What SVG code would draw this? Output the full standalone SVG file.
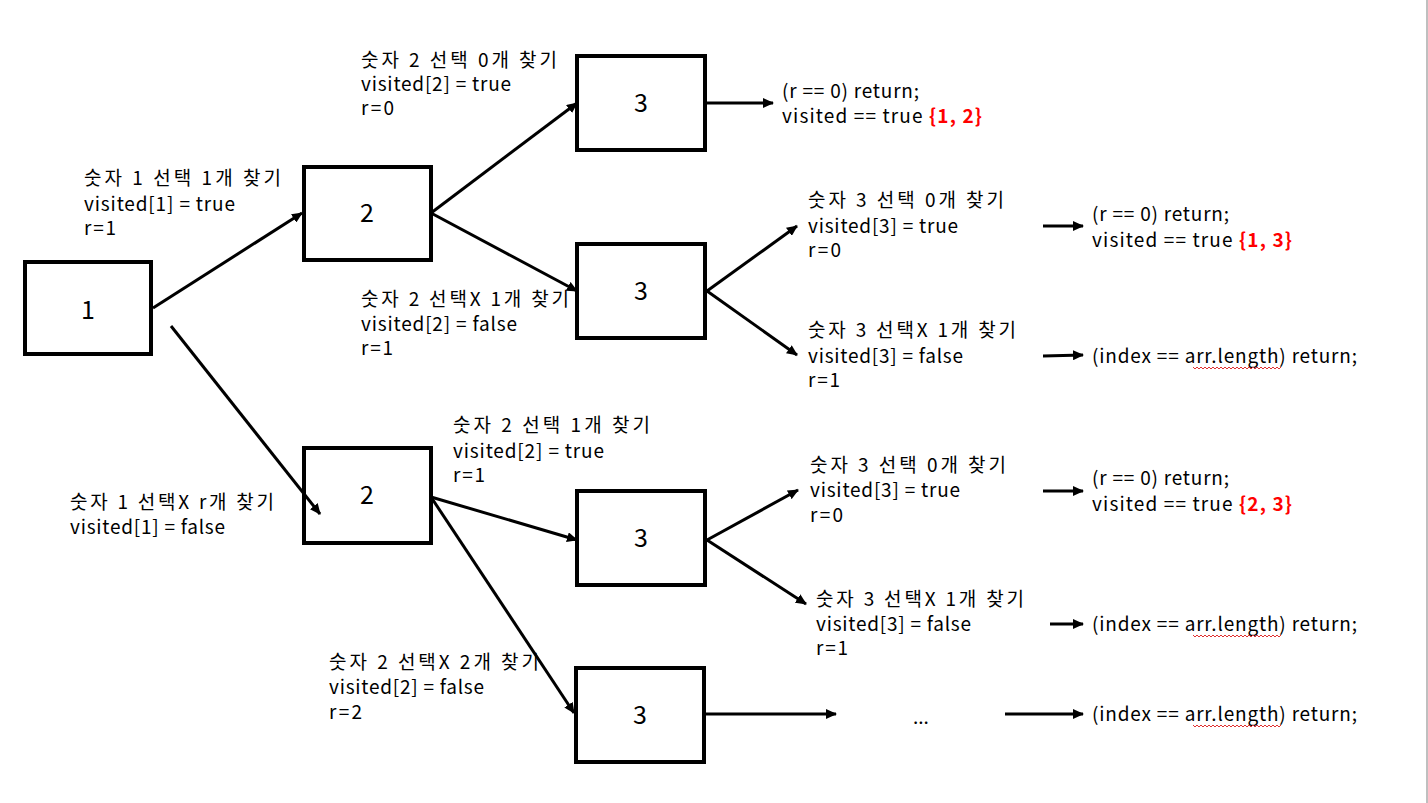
<svg xmlns="http://www.w3.org/2000/svg" width="1428" height="803" viewBox="0 0 1428 803">
<defs>
<marker id="ah" markerUnits="userSpaceOnUse" markerWidth="12" markerHeight="10" refX="10" refY="5" orient="auto">
<path d="M0,0 L11,5 L0,10 Z" fill="#000"/>
</marker>
<style>
.box{fill:#fff;stroke:#000;stroke-width:4}
.num{font-family:"Noto Sans CJK KR","Noto Sans",sans-serif;font-size:25px;fill:#000;text-anchor:middle}
.t{font-family:"Noto Sans CJK KR","Noto Sans",sans-serif;font-size:19px;fill:#000}
.red{fill:#ff0000;font-weight:bold}
.c{stroke:#000;stroke-width:3;fill:none;marker-end:url(#ah)}
.sq{stroke:#e03030;stroke-width:1;fill:none}
</style>
</defs>
<rect width="1428" height="803" fill="#fff"/>
<line x1="1427" y1="0" x2="1427" y2="803" stroke="#bfbfbf" stroke-width="2"/>

<g id="n1"><rect class="box" x="25" y="262" width="126" height="92"/><text class="num" x="88" y="319">1</text></g>
<g id="n2a"><rect class="box" x="304" y="167" width="127" height="93"/><text class="num" x="367" y="222">2</text></g>
<g id="n3a"><rect class="box" x="577" y="56" width="128" height="94"/><text class="num" x="641" y="112">3</text></g>
<g id="n3b"><rect class="box" x="577" y="244" width="128" height="94"/><text class="num" x="641" y="300">3</text></g>
<g id="n2b"><rect class="box" x="304" y="448" width="127" height="95"/><text class="num" x="367" y="504">2</text></g>
<g id="n3c"><rect class="box" x="577" y="491" width="128" height="94"/><text class="num" x="641" y="547">3</text></g>
<g id="n3d"><rect class="box" x="576" y="668" width="128" height="94"/><text class="num" x="640" y="724">3</text></g>

<g id="labels">
<text class="t" x="361" y="67" textLength="196" lengthAdjust="spacing">숫자 2 선택 0개 찾기</text>
<text class="t" x="361" y="91" textLength="150" lengthAdjust="spacing">visited[2] = true</text>
<text class="t" x="361" y="115" textLength="33" lengthAdjust="spacing">r=0</text>

<text class="t" x="84" y="185" textLength="197" lengthAdjust="spacing">숫자 1 선택 1개 찾기</text>
<text class="t" x="84" y="211" textLength="151" lengthAdjust="spacing">visited[1] = true</text>
<text class="t" x="84" y="235" textLength="32" lengthAdjust="spacing">r=1</text>

<text class="t" x="782" y="98" textLength="137" lengthAdjust="spacing">(r == 0) return;</text>
<text class="t" x="782" y="123" textLength="200" lengthAdjust="spacing">visited == true <tspan class="red">{1, 2}</tspan></text>

<text class="t" x="808" y="207" textLength="196" lengthAdjust="spacing">숫자 3 선택 0개 찾기</text>
<text class="t" x="808" y="233" textLength="150" lengthAdjust="spacing">visited[3] = true</text>
<text class="t" x="808" y="257" textLength="33" lengthAdjust="spacing">r=0</text>

<text class="t" x="1092" y="221" textLength="137" lengthAdjust="spacing">(r == 0) return;</text>
<text class="t" x="1092" y="247" textLength="200" lengthAdjust="spacing">visited == true <tspan class="red">{1, 3}</tspan></text>

<text class="t" x="361" y="306" textLength="208" lengthAdjust="spacing">숫자 2 선택X 1개 찾기</text>
<text class="t" x="361" y="331" textLength="156" lengthAdjust="spacing">visited[2] = false</text>
<text class="t" x="361" y="355" textLength="32" lengthAdjust="spacing">r=1</text>

<text class="t" x="808" y="337" textLength="208" lengthAdjust="spacing">숫자 3 선택X 1개 찾기</text>
<text class="t" x="808" y="363" textLength="155" lengthAdjust="spacing">visited[3] = false</text>
<text class="t" x="808" y="387" textLength="32" lengthAdjust="spacing">r=1</text>

<text class="t" x="1092" y="363" textLength="265" lengthAdjust="spacing">(index == arr.length) return;</text>

<text class="t" x="453" y="432" textLength="197" lengthAdjust="spacing">숫자 2 선택 1개 찾기</text>
<text class="t" x="453" y="458" textLength="151" lengthAdjust="spacing">visited[2] = true</text>
<text class="t" x="453" y="482" textLength="32" lengthAdjust="spacing">r=1</text>

<text class="t" x="70" y="509" textLength="204" lengthAdjust="spacing">숫자 1 선택X r개 찾기</text>
<text class="t" x="70" y="534" textLength="155" lengthAdjust="spacing">visited[1] = false</text>

<text class="t" x="810" y="472" textLength="196" lengthAdjust="spacing">숫자 3 선택 0개 찾기</text>
<text class="t" x="810" y="497" textLength="150" lengthAdjust="spacing">visited[3] = true</text>
<text class="t" x="810" y="522" textLength="33" lengthAdjust="spacing">r=0</text>

<text class="t" x="1092" y="485" textLength="137" lengthAdjust="spacing">(r == 0) return;</text>
<text class="t" x="1092" y="511" textLength="200" lengthAdjust="spacing">visited == true <tspan class="red">{2, 3}</tspan></text>

<text class="t" x="816" y="606" textLength="208" lengthAdjust="spacing">숫자 3 선택X 1개 찾기</text>
<text class="t" x="816" y="631" textLength="155" lengthAdjust="spacing">visited[3] = false</text>
<text class="t" x="816" y="655" textLength="32" lengthAdjust="spacing">r=1</text>

<text class="t" x="1092" y="631" textLength="265" lengthAdjust="spacing">(index == arr.length) return;</text>

<text class="t" x="329" y="669" textLength="210" lengthAdjust="spacing">숫자 2 선택X 2개 찾기</text>
<text class="t" x="329" y="694" textLength="155" lengthAdjust="spacing">visited[2] = false</text>
<text class="t" x="329" y="719" textLength="33" lengthAdjust="spacing">r=2</text>

<text class="t" x="913" y="724">...</text>
<text class="t" x="1092" y="721" textLength="265" lengthAdjust="spacing">(index == arr.length) return;</text>
</g>

<g id="connectors">
<line class="c" x1="153" y1="308" x2="302" y2="213"/>
<line class="c" x1="171" y1="326" x2="320" y2="514"/>
<line class="c" x1="431" y1="213" x2="577" y2="103"/>
<line class="c" x1="431" y1="213" x2="577" y2="291"/>
<line class="c" x1="706" y1="103" x2="773" y2="103"/>
<line class="c" x1="707" y1="291" x2="797" y2="226"/>
<line class="c" x1="707" y1="291" x2="797" y2="355"/>
<line class="c" x1="1043" y1="226" x2="1083" y2="226"/>
<line class="c" x1="1043" y1="356" x2="1083" y2="355"/>
<line class="c" x1="431" y1="497" x2="577" y2="540"/>
<line class="c" x1="431" y1="497" x2="574" y2="713"/>
<line class="c" x1="707" y1="540" x2="798" y2="490"/>
<line class="c" x1="707" y1="540" x2="806" y2="604"/>
<line class="c" x1="1043" y1="491" x2="1083" y2="491"/>
<line class="c" x1="1050" y1="624" x2="1083" y2="624"/>
<line class="c" x1="705" y1="714" x2="836" y2="714"/>
<line class="c" x1="1005" y1="714" x2="1083" y2="714"/>
</g>

<g id="squiggles">
<path class="sq" d="M1193,367 l2,2 l2,-2 l2,2 l2,-2 l2,2 l2,-2 l2,2 l2,-2 l2,2 l2,-2 l2,2 l2,-2 l2,2 l2,-2 l2,2 l2,-2 l2,2 l2,-2 l2,2 l2,-2 l2,2 l2,-2 l2,2 l2,-2 l2,2 l2,-2 l2,2 l2,-2 l2,2 l2,-2 l2,2 l2,-2 l2,2 l2,-2 l2,2 l2,-2 l2,2 l2,-2 l2,2 l2,-2 l2,2 l2,-2 l2,2 l2,-2"/>
<path class="sq" d="M1193,635 l2,2 l2,-2 l2,2 l2,-2 l2,2 l2,-2 l2,2 l2,-2 l2,2 l2,-2 l2,2 l2,-2 l2,2 l2,-2 l2,2 l2,-2 l2,2 l2,-2 l2,2 l2,-2 l2,2 l2,-2 l2,2 l2,-2 l2,2 l2,-2 l2,2 l2,-2 l2,2 l2,-2 l2,2 l2,-2 l2,2 l2,-2 l2,2 l2,-2 l2,2 l2,-2 l2,2 l2,-2 l2,2 l2,-2 l2,2 l2,-2"/>
<path class="sq" d="M1193,725 l2,2 l2,-2 l2,2 l2,-2 l2,2 l2,-2 l2,2 l2,-2 l2,2 l2,-2 l2,2 l2,-2 l2,2 l2,-2 l2,2 l2,-2 l2,2 l2,-2 l2,2 l2,-2 l2,2 l2,-2 l2,2 l2,-2 l2,2 l2,-2 l2,2 l2,-2 l2,2 l2,-2 l2,2 l2,-2 l2,2 l2,-2 l2,2 l2,-2 l2,2 l2,-2 l2,2 l2,-2 l2,2 l2,-2 l2,2 l2,-2"/>
</g>
</svg>
